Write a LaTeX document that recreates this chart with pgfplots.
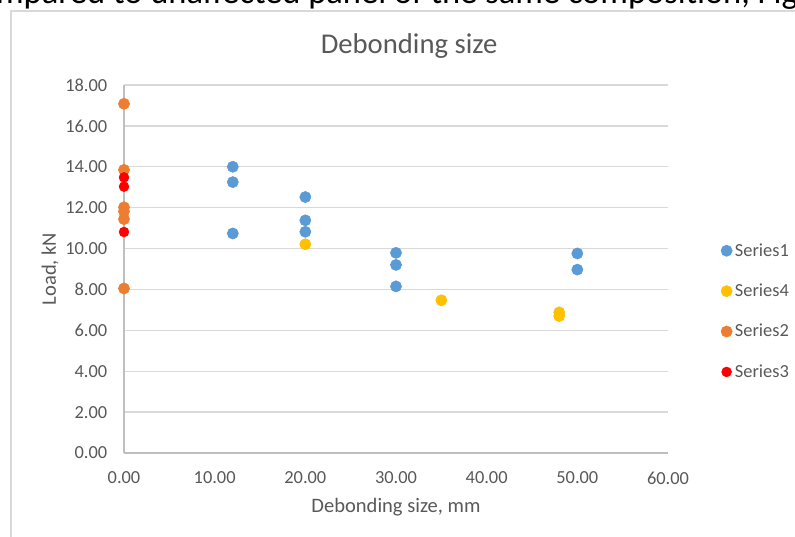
\documentclass[border=0pt]{standalone}
\usepackage{pgfplots}
\pgfplotsset{compat=1.18}
\usepackage{fontspec}
\setmainfont{Carlito}
\definecolor{sOne}{HTML}{5B9BD5}
\definecolor{sFour}{HTML}{FFC000}
\definecolor{sTwo}{HTML}{ED7D31}
\definecolor{sThree}{HTML}{FF0000}
\definecolor{txt}{HTML}{595959}
\definecolor{gridc}{HTML}{D9D9D9}
\definecolor{axc}{HTML}{BFBFBF}
\begin{document}
\begin{tikzpicture}[x=1pt,y=1pt]
\clip (0,0) rectangle (596.25,402);
\fill[white] (0,0) rectangle (596.25,402);
\node[anchor=base, inner sep=0pt, text=black, font=\fontsize{25.9}{30}\selectfont] at (297.75,399) {mpared to unaffected panel of the same composition, Fig};
\draw[gridc, line width=1pt] (8.25,-5) -- (8.25,393.75) -- (610,393.75);
\begin{axis}[
  at={(93pt,62.25pt)}, anchor=south west,
  scale only axis, width=408pt, height=276pt,
  xmin=0, xmax=60, ymin=0, ymax=18,
  xtick={0,10,...,60}, ytick={0,2,...,18},
  axis x line*=bottom, axis y line*=left,
  axis line style={axc, line width=1pt},
  x axis line style={-}, y axis line style={-},
  ymajorgrids, major grid style={gridc, line width=1pt},
  major tick length=0pt,
  /pgf/number format/assume math mode=true,
  /pgf/number format/.cd, fixed, fixed zerofill, precision=2, /pgfplots/.cd,
  tick label style={text=txt, font=\fontsize{13.8}{16}\selectfont},
  yticklabel style={xshift=-9pt},
  xticklabel style={yshift=-10.5pt},
  xlabel={Debonding size, mm}, ylabel={Load, kN},
  label style={text=txt, font=\fontsize{15.4}{18}\selectfont},
  xlabel style={at={(axis description cs:0.5,-0.147)}, anchor=center},
  ylabel style={at={(axis description cs:-0.136,0.5)}, anchor=center, rotate=0},
  title={Debonding size},
  title style={at={(axis description cs:0.524,1.084)}, anchor=center, text=txt, font=\fontsize{21.5}{25}\selectfont},
  legend style={at={(axis description cs:1.097,0.385)}, anchor=west, draw=none, fill=none,
    font=\fontsize{13.8}{16}\selectfont, text=txt, row sep=15.3pt, inner sep=0pt},
  legend cell align=left,
  clip=false,
]
\addplot[only marks, mark=*, mark size=4.2pt, mark options={draw=sOne, fill=sOne}] coordinates {
(12,14.0) (12,13.25) (12,10.74) (20,12.52) (20,11.38) (20,10.82) (30,9.79) (30,9.2) (30,8.15) (50,9.76) (50,8.97)};
\addlegendentry{Series1}
\addplot[only marks, mark=*, mark size=4.2pt, mark options={draw=sFour, fill=sFour}] coordinates {
(20,10.21) (35,7.47) (48,6.88) (48,6.7)};
\addlegendentry{Series4}
\addplot[only marks, mark=*, mark size=4.2pt, mark options={draw=sTwo, fill=sTwo}] coordinates {
(0,17.08) (0,13.85) (0,12.02) (0,11.82) (0,11.44) (0,8.05)};
\addlegendentry{Series2}
\addplot[only marks, mark=*, mark size=3.7pt, mark options={draw=sThree, fill=sThree}] coordinates {
(0,13.48) (0,13.03) (0,10.81)};
\addlegendentry{Series3}
\end{axis}
\end{tikzpicture}
\end{document}
